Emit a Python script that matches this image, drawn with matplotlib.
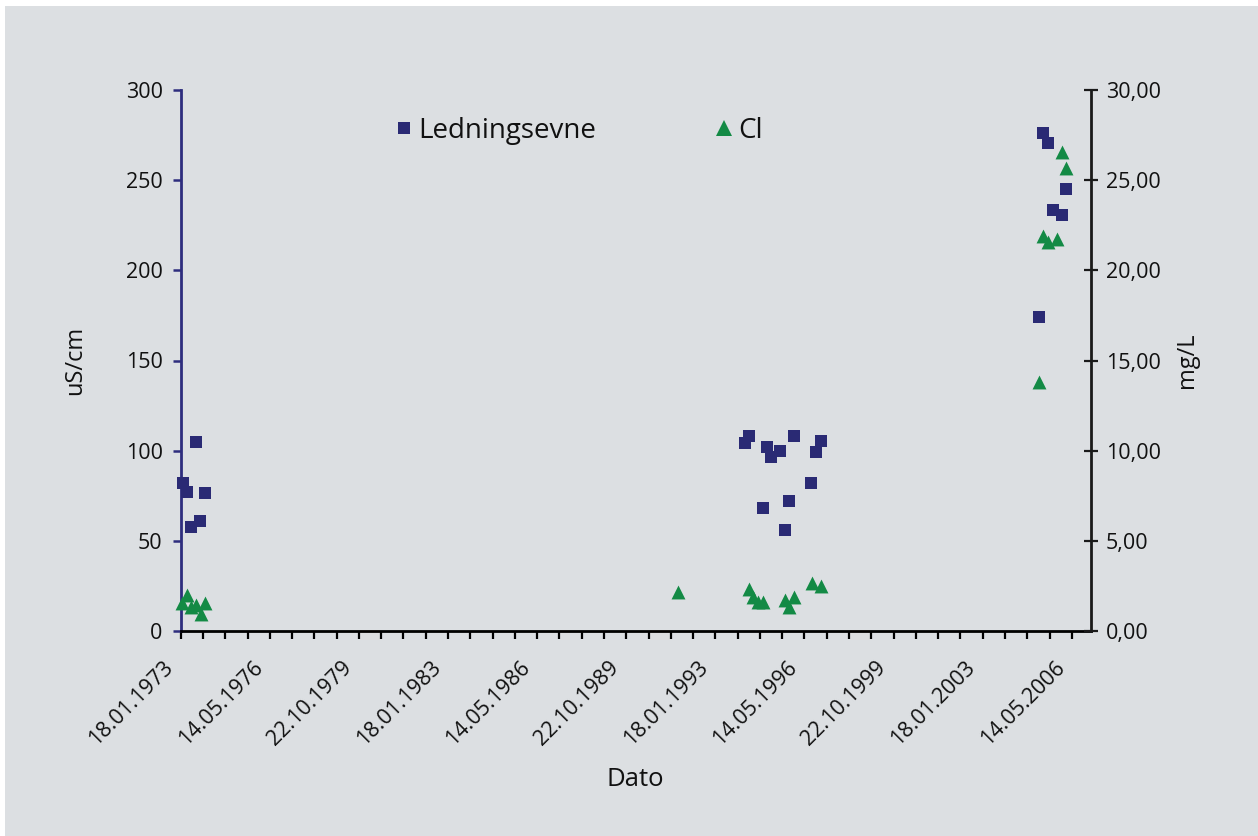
import matplotlib
matplotlib.use("Agg")
import matplotlib.pyplot as plt
import matplotlib.dates as mdates
import matplotlib.transforms as mtransforms
from matplotlib.lines import Line2D
from matplotlib.patches import Rectangle
import numpy as np

plt.rcParams['font.family'] = ['Open Sans', 'DejaVu Sans']

# ---- data ----
ledning_dates = ["1973-02-14", "1973-04-10", "1973-06-08", "1973-08-15", "1973-10-15", "1973-12-15",
                 "1994-02-23", "1994-04-27", "1994-10-27", "1994-12-20", "1995-02-21", "1995-06-20",
                 "1995-08-27", "1995-10-25", "1995-12-28", "1996-08-21", "1996-10-24", "1996-12-28",
                 "2005-03-03", "2005-04-26", "2005-07-03", "2005-09-02", "2006-01-02", "2006-03-01"]
ledning_values = [82.1, 77.0, 57.7, 104.8, 61.0, 76.5,
                  104.1, 108.1, 68.2, 102.2, 96.7, 99.8,
                  56.2, 72.3, 108.3, 82.2, 99.1, 105.2,
                  174.3, 276.0, 270.8, 233.5, 230.7, 245.0]

cl_dates = ["1973-02-10", "1973-04-10", "1973-06-05", "1973-08-15", "1973-10-17", "1973-12-18",
            "1991-08-26",
            "1994-04-27", "1994-06-20", "1994-08-27", "1994-11-04",
            "1995-08-27", "1995-10-25", "1995-12-28", "1996-08-26", "1996-12-28",
            "2005-03-03", "2005-04-26", "2005-07-03", "2005-11-03", "2006-01-02", "2006-03-01"]
cl_values = [1.55, 2.00, 1.35, 1.44, 0.93, 1.54,
             2.18,
             2.31, 1.90, 1.62, 1.62,
             1.72, 1.35, 1.90, 2.65, 2.51,
             13.82, 21.92, 21.59, 21.72, 26.55, 25.66]

x_start = "1973-01-18"
x_end = "2007-02-02"
major_step_days = 1217.5
x_tick_labels = ["18.01.1973", "14.05.1976", "22.10.1979", "18.01.1983", "14.05.1986",
                 "22.10.1989", "18.01.1993", "14.05.1996", "22.10.1999", "18.01.2003", "14.05.2006"]
left_ticks = [0, 50, 100, 150, 200, 250, 300]
right_ticks = [0, 5, 10, 15, 20, 25, 30]
right_tick_labels = ["0,00", "5,00", "10,00", "15,00", "20,00", "25,00", "30,00"]

# ---- styles ----
BG = '#dcdfe2'
NAVY = '#2a2a74'
NAVY_SPINE = '#2e2d7e'
GREEN = '#138a45'
TXT = '#111111'
TICK_FS = 15.5

W, H = 1258, 836
fig = plt.figure(figsize=(W / 100, H / 100), dpi=100, facecolor='white')
fig.patches.append(Rectangle((5 / W, 0), 1 - 5 / W, 1 - 6 / H, transform=fig.transFigure,
                             facecolor=BG, edgecolor='none', zorder=-10))

left, right_, top, bottom = 180.7, 1090.7, 90, 631
ax = fig.add_axes([left / W, 1 - bottom / H, (right_ - left) / W, (bottom - top) / H])
ax.set_facecolor('none')
ax2 = ax.twinx()
ax2.set_facecolor('none')

ld = mdates.datestr2num(ledning_dates)
cd = mdates.datestr2num(cl_dates)
x0 = mdates.datestr2num(x_start)
x1 = mdates.datestr2num(x_end)

ax.scatter(ld, ledning_values, marker='s', s=84, color=NAVY, linewidths=0, zorder=3, clip_on=False)
ax2.scatter(cd, cl_values, marker='^', s=100, color=GREEN, linewidths=0, zorder=3, clip_on=False)

ax.set_xlim(x0, x1)
ax.set_ylim(0, 300)
ax2.set_ylim(0, 30)

majors = [x0 + k * major_step_days for k in range(len(x_tick_labels))]
minors = [x0 + k * major_step_days / 4 for k in range(int((x1 - x0) / (major_step_days / 4)) + 1)]
ax.set_xticks(majors)
ax.set_xticks(minors, minor=True)
ax.set_xticklabels(x_tick_labels, rotation=45, ha='right', va='top',
                   fontsize=TICK_FS, color=TXT)
ax.tick_params(axis='x', which='both', direction='out', length=6, width=1.6, color='black', pad=13)
shift = mtransforms.ScaledTranslation(-3 / 100, 0, fig.dpi_scale_trans)
for lbl in ax.get_xticklabels():
    lbl.set_transform(lbl.get_transform() + shift)

ax.set_yticks(left_ticks)
ax.set_yticklabels([str(v) for v in left_ticks], fontsize=TICK_FS, color=TXT)
ax.tick_params(axis='y', direction='out', length=6, width=1.8, color=NAVY_SPINE, pad=7)

ax2.set_yticks(right_ticks)
ax2.set_yticklabels(right_tick_labels, fontsize=TICK_FS, color=TXT)
ax2.tick_params(axis='y', direction='inout', length=10, width=1.6, color='#1a1a1a', pad=6)
ax2.yaxis.get_major_ticks()[0].tick2line.set_color(GREEN)

for a in (ax, ax2):
    a.spines['top'].set_visible(False)
ax.spines['right'].set_visible(False)
ax2.spines['left'].set_visible(False)
ax2.spines['bottom'].set_visible(False)
ax.spines['left'].set_color(NAVY_SPINE)
ax.spines['left'].set_linewidth(2)
ax.spines['bottom'].set_color('black')
ax.spines['bottom'].set_linewidth(2)
ax2.spines['right'].set_color('#1a1a1a')
ax2.spines['right'].set_linewidth(2)

ax.set_ylabel('uS/cm', fontsize=17, color=TXT, labelpad=28)
ax2.set_ylabel('mg/L', fontsize=17, color=TXT, labelpad=10)
ax.set_xlabel('Dato', fontsize=18.5, color=TXT, labelpad=12)

handles = [Line2D([], [], marker='s', linestyle='none', markersize=8.5, color=NAVY, markeredgewidth=0),
           Line2D([], [], marker='^', linestyle='none', markersize=11, color=GREEN, markeredgewidth=0)]
fig.legend(handles, ['Ledningsevne', 'Cl'], ncol=2, frameon=False, fontsize=20,
           loc='center left', bbox_to_anchor=(396 / W, 1 - 131 / H),
           handlelength=0.6, handletextpad=0.2, columnspacing=4.3, borderpad=0, borderaxespad=0,
           labelcolor=TXT)

fig.savefig('out.png', dpi=100, facecolor=fig.get_facecolor())
